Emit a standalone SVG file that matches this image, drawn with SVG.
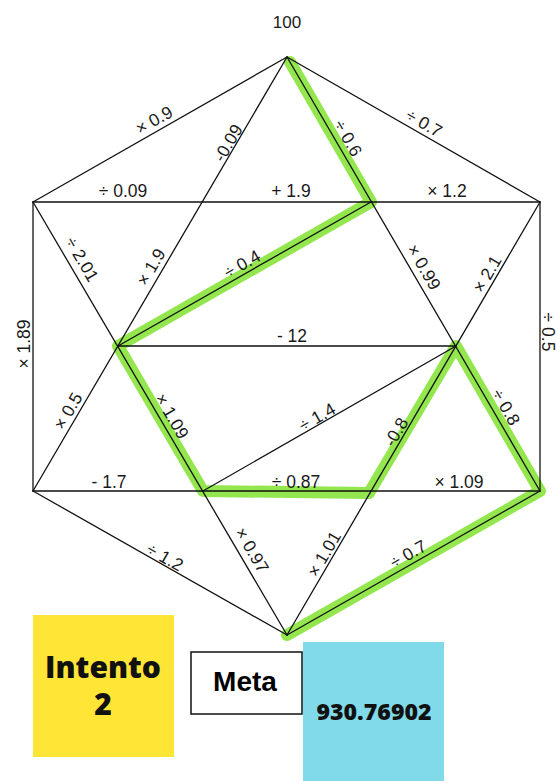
<svg xmlns="http://www.w3.org/2000/svg" width="557" height="781" viewBox="0 0 557 781">
<style>
.ln{stroke:#111;stroke-width:1.3;fill:none;stroke-linecap:round}
.hl{stroke:#78e022;stroke-width:12;fill:none;stroke-linecap:round;stroke-linejoin:round;opacity:0.8}
.lb{font-family:"Liberation Sans",Arial,sans-serif;font-size:17.5px;fill:#1a1a1a;text-anchor:middle}
.big{font-family:"Open Sans","Noto Sans",sans-serif;font-weight:800;fill:#111;text-anchor:middle}
.meta{font-family:"Liberation Sans",Arial,sans-serif;font-weight:700;font-size:28px;fill:#000;text-anchor:middle}
</style>
<rect width="557" height="781" fill="#fff"/>
<g id="highlight">
<polyline class="hl" points="290,62 371,202 118,346 203,491 369,493 456,346 540,491 287,635"/>
</g>
<g id="connectors">
<line class="ln" x1="287" y1="57" x2="33" y2="202"/>
<line class="ln" x1="287" y1="57" x2="540" y2="202"/>
<line class="ln" x1="287" y1="57" x2="33" y2="491"/>
<line class="ln" x1="287" y1="57" x2="540" y2="491"/>
<line class="ln" x1="33" y1="202" x2="540" y2="202"/>
<line class="ln" x1="33" y1="202" x2="33" y2="491"/>
<line class="ln" x1="540" y1="202" x2="540" y2="491"/>
<line class="ln" x1="33" y1="202" x2="287" y2="635"/>
<line class="ln" x1="540" y1="202" x2="287" y2="635"/>
<line class="ln" x1="118" y1="346" x2="371" y2="202"/>
<line class="ln" x1="118" y1="346" x2="456" y2="346"/>
<line class="ln" x1="456" y1="346" x2="203" y2="491"/>
<line class="ln" x1="33" y1="491" x2="540" y2="491"/>
<line class="ln" x1="33" y1="491" x2="287" y2="635"/>
<line class="ln" x1="540" y1="491" x2="287" y2="635"/>
</g>
<g id="labels">
<text class="lb" transform="translate(154,120) rotate(-29.7)" dy="0.35em">× 0.9</text>
<text class="lb" transform="translate(228,143) rotate(-59.7)" dy="0.35em">-0.09</text>
<text class="lb" x="123" y="197">÷ 0.09</text>
<text class="lb" x="291" y="197">+ 1.9</text>
<text class="lb" x="447" y="197">× 1.2</text>
<text class="lb" transform="translate(424,123) rotate(29.8)" dy="0.35em">÷ 0.7</text>
<text class="lb" transform="translate(348,138) rotate(59.8)" dy="0.35em">÷ 0.6</text>
<text class="lb" transform="translate(82,259) rotate(59.6)" dy="0.35em">÷ 2.01</text>
<text class="lb" transform="translate(151,267) rotate(-59.7)" dy="0.35em">× 1.9</text>
<text class="lb" transform="translate(242,264) rotate(-29.65)" dy="0.35em">÷ 0.4</text>
<text class="lb" transform="translate(424,267) rotate(59.8)" dy="0.35em">× 0.99</text>
<text class="lb" transform="translate(487,274) rotate(-59.7)" dy="0.35em">× 2.1</text>
<text class="lb" transform="translate(548,332) rotate(90)" dy="0.35em">÷ 0.5</text>
<text class="lb" transform="translate(24,344) rotate(-90)" dy="0.35em">× 1.89</text>
<text class="lb" x="292" y="342">- 12</text>
<text class="lb" transform="translate(68,411) rotate(-59.7)" dy="0.35em">× 0.5</text>
<text class="lb" transform="translate(172,416) rotate(59.6)" dy="0.35em">× 1.09</text>
<text class="lb" x="109" y="488">- 1.7</text>
<text class="lb" transform="translate(317,417) rotate(-29.8)" dy="0.35em">÷ 1.4</text>
<text class="lb" transform="translate(396,432) rotate(-59.7)" dy="0.35em">-0.8</text>
<text class="lb" transform="translate(506,407) rotate(59.8)" dy="0.35em">÷ 0.8</text>
<text class="lb" x="296" y="488">÷ 0.87</text>
<text class="lb" x="459" y="488">× 1.09</text>
<text class="lb" transform="translate(165,557) rotate(29.6)" dy="0.35em">÷ 1.2</text>
<text class="lb" transform="translate(252,550) rotate(59.6)" dy="0.35em">× 0.97</text>
<text class="lb" transform="translate(324,554) rotate(-59.7)" dy="0.35em">× 1.01</text>
<text class="lb" transform="translate(408,554) rotate(-29.65)" dy="0.35em">÷ 0.7</text>
</g>
<g id="start">
<text class="lb" x="287" y="28" style="font-size:17px">100</text>
</g>
<g id="intento">
<rect x="33" y="615" width="141" height="142" fill="#fee536"/>
<text class="big" x="103" y="678" style="font-size:30px">Intento</text>
<text class="big" x="103" y="715" style="font-size:30px">2</text>
</g>
<g id="meta">
<rect x="191" y="652" width="111" height="62" fill="#fff" stroke="#111" stroke-width="1.5"/>
<text class="meta" x="245" y="691">Meta</text>
</g>
<g id="valor">
<rect x="303" y="642" width="141" height="139" fill="#80dae9"/>
<text class="big" x="374" y="720" style="font-size:22px" textLength="115" lengthAdjust="spacingAndGlyphs">930.76902</text>
</g>
</svg>
